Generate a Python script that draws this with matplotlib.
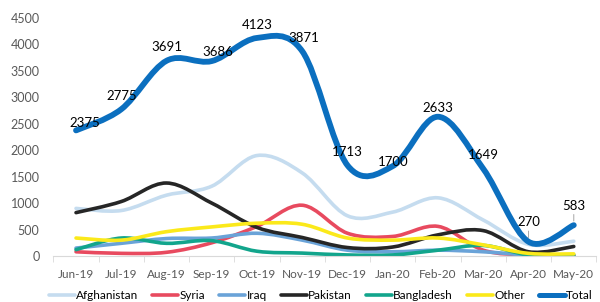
import numpy as np
import matplotlib.pyplot as plt
from matplotlib.path import Path
from matplotlib.patches import PathPatch
from matplotlib.lines import Line2D

plt.rcParams["font.family"] = ["Lato", "DejaVu Sans"]

months = ["Jun-19", "Jul-19", "Aug-19", "Sep-19", "Oct-19", "Nov-19",
          "Dec-19", "Jan-20", "Feb-20", "Mar-20", "Apr-20", "May-20"]

afghanistan = [900, 860, 1150, 1320, 1900, 1570, 760, 830, 1100, 680, 220, 280]
syria = [80, 50, 70, 250, 560, 960, 430, 370, 560, 110, 20, 10]
iraq = [150, 240, 330, 340, 430, 300, 110, 80, 110, 80, 20, 20]
pakistan = [820, 1030, 1380, 1000, 540, 350, 160, 170, 400, 480, 80, 180]
bangladesh = [120, 340, 240, 290, 90, 55, 20, 20, 110, 200, 20, 10]
other = [340, 300, 460, 550, 620, 600, 340, 300, 340, 210, 50, 40]
total = [2375, 2775, 3691, 3686, 4123, 3871, 1713, 1700, 2633, 1649, 270, 583]

series = [
    ("Afghanistan", afghanistan, "#c5dcef", 2.6),
    ("Syria", syria, "#e84a5f", 2.6),
    ("Iraq", iraq, "#6aa3d8", 2.6),
    ("Pakistan", pakistan, "#262626", 2.6),
    ("Bangladesh", bangladesh, "#12a58c", 2.6),
    ("Other", other, "#fbe91a", 2.6),
    ("Total", total, "#0b6fbf", 4.2),
]

# (dx, dy) offsets in points for the Total data labels (label centre vs point)
label_offsets = [(6, 5), (0, 9.5), (0, 10), (4, 6.5), (0, 9.5), (1, 9.5),
                 (0, 9.5), (0, 3), (0, 6), (0, 10), (0, 14), (0, 14)]


def smooth_path(x, y):
    """Excel-style smoothed line: cubic Bezier through each point."""
    pts = np.column_stack([x, y]).astype(float)
    n = len(pts)
    verts = [pts[0]]
    codes = [Path.MOVETO]
    for i in range(n - 1):
        p0 = pts[max(i - 1, 0)]
        p1 = pts[i]
        p2 = pts[i + 1]
        p3 = pts[min(i + 2, n - 1)]
        c1 = p1 + (p2 - p0) / 6.0
        c2 = p2 - (p3 - p1) / 6.0
        verts += [c1, c2, p2]
        codes += [Path.CURVE4] * 3
    return Path(verts, codes)


fig = plt.figure(figsize=(6.0, 3.02), dpi=100)
ax = fig.add_axes([0.089, 0.1523, 0.905, 0.7881])

x = np.arange(len(months))
handles = []
for name, vals, color, lw in series:
    patch = PathPatch(smooth_path(x, vals), facecolor="none", edgecolor=color,
                      lw=lw, capstyle="round", joinstyle="round")
    ax.add_patch(patch)
    handles.append(Line2D([], [], color=color, lw=lw if name != "Total" else 3.6,
                          solid_capstyle="round", label=name))

for xi, v, (dx, dy) in zip(x, total, label_offsets):
    long_leader = dy > 12
    ax.annotate(str(v), (xi, v), xytext=(dx, dy), textcoords="offset points",
                ha="center", va="center", fontsize=9.5, color="#000000",
                arrowprops=dict(arrowstyle="-", color="#a6a6a6", lw=0.7,
                                relpos=(0.5, 0.0), shrinkA=0, shrinkB=3)
                if long_leader else None)

ax.set_xlim(-0.5, len(months) - 0.5)
ax.set_ylim(0, 4500)
ax.set_yticks(np.arange(0, 4501, 500))
ax.set_xticks(x)
ax.set_xticklabels(months)
ax.set_xticks(np.arange(-0.5, len(months), 1.0), minor=True)
ax.tick_params(axis="x", which="major", length=0, pad=9, labelsize=8.5, labelcolor="#595959")
ax.tick_params(axis="x", which="minor", length=4, color="#d9d9d9", direction="out")
ax.tick_params(axis="y", length=0, pad=10, labelsize=9, labelcolor="#595959")
for side in ("top", "right", "left"):
    ax.spines[side].set_visible(False)
ax.spines["bottom"].set_color("#d9d9d9")
ax.set_facecolor("white")

fig.legend(handles=handles, loc="center", bbox_to_anchor=(0.535, 0.022), ncol=7,
           frameon=False, fontsize=8.5, handlelength=2.2, handletextpad=0.1,
           columnspacing=1.2)

fig.savefig("out.png", dpi=100)
